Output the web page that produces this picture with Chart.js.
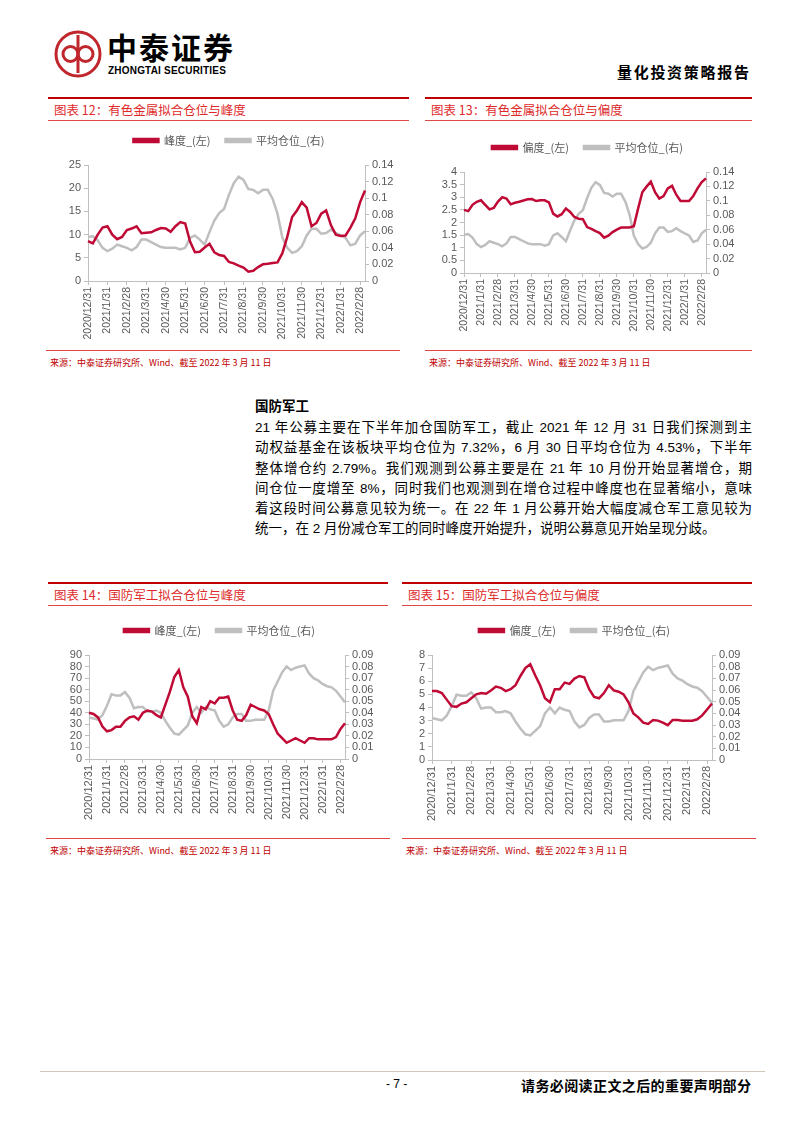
<!DOCTYPE html>
<html>
<head>
<meta charset="utf-8">
<script src="https://cdn.jsdelivr.net/npm/chart.js@4.4.0/dist/chart.umd.min.js"></script>
<style>
body { margin:0; width:802px; height:1133px; background:#fff; position:relative; overflow:hidden;
  font-family:"Liberation Sans","Noto Sans CJK SC",sans-serif; color:#000; }
.abs { position:absolute; }
.ttl { position:absolute; height:21px; border-top:2.5px solid #c00000; border-bottom:1px solid #e04848;
  color:#e02a2a; font-size:12.5px; line-height:21px; padding-left:6px; box-sizing:content-box;
  font-family:"Noto Sans CJK SC","Liberation Sans",sans-serif; }
.src { position:absolute; border-top:1px solid #e04848; color:#c00000; font-size:9px; padding:5px 0 0 4px;
  font-family:"Noto Sans CJK SC","Liberation Sans",sans-serif; }
.box { position:absolute; }
.txt { position:absolute; left:255px; width:497px; font-size:13.5px; line-height:20.3px; }
.txt div { text-align:justify; text-align-last:justify; white-space:nowrap; }
.txt div.last { text-align-last:left; }
</style>
</head>
<body>

<svg class="abs" style="left:53px;top:29px" width="50" height="50">
  <circle cx="25" cy="25" r="22" fill="none" stroke="#c0272d" stroke-width="3"/>
  <line x1="25" y1="6" x2="25" y2="44" stroke="#c0272d" stroke-width="3"/>
  <circle cx="17.5" cy="25" r="7.5" fill="none" stroke="#c0272d" stroke-width="3"/>
  <circle cx="32.5" cy="25" r="7.5" fill="none" stroke="#c0272d" stroke-width="3"/>
</svg>
<div class="abs" style="left:107px;top:29px;font-size:30px;font-weight:bold;letter-spacing:2px;font-family:'Noto Sans CJK SC';line-height:34px">中泰证券</div>
<div class="abs" style="left:108px;top:65px;font-size:10px;font-weight:bold;letter-spacing:0.2px">ZHONGTAI SECURITIES</div>
<div class="abs" style="left:617px;top:61px;font-size:15px;font-weight:bold;letter-spacing:1.7px;font-family:'Noto Sans CJK SC'">量化投资策略报告</div>

<div class="ttl" style="left:48px;top:97px;width:355px">图表 12：有色金属拟合仓位与峰度</div>
<div class="ttl" style="left:425px;top:97px;width:321px">图表 13：有色金属拟合仓位与偏度</div>
<div class="box" style="left:58px;top:120px;width:342px;height:223px"><canvas id="c12"></canvas></div>
<div class="box" style="left:434px;top:127px;width:307px;height:208px"><canvas id="c13"></canvas></div>
<div class="src" style="left:46px;top:350px;width:350px">来源：中泰证券研究所、Wind、截至 2022 年 3 月 11 日</div>
<div class="src" style="left:425px;top:350px;width:323px">来源：中泰证券研究所、Wind、截至 2022 年 3 月 11 日</div>

<div class="abs" style="left:255px;top:395px;font-size:13.5px;font-weight:bold;font-family:'Noto Sans CJK SC'">国防军工</div>
<div class="txt" style="top:418px">
  <div>21 年公募主要在下半年加仓国防军工，截止 2021 年 12 月 31 日我们探测到主</div>
  <div>动权益基金在该板块平均仓位为 7.32%，6 月 30 日平均仓位为 4.53%，下半年</div>
  <div>整体增仓约 2.79%。我们观测到公募主要是在 21 年 10 月份开始显著增仓，期</div>
  <div>间仓位一度增至 8%，同时我们也观测到在增仓过程中峰度也在显著缩小，意味</div>
  <div>着这段时间公募意见较为统一。在 22 年 1 月公募开始大幅度减仓军工意见较为</div>
  <div class="last">统一，在 2 月份减仓军工的同时峰度开始提升，说明公募意见开始呈现分歧。</div>
</div>

<div class="ttl" style="left:48px;top:582px;width:334px">图表 14：国防军工拟合仓位与峰度</div>
<div class="ttl" style="left:402px;top:582px;width:344px">图表 15：国防军工拟合仓位与偏度</div>
<div class="box" style="left:59px;top:610px;width:321px;height:211px"><canvas id="c14"></canvas></div>
<div class="box" style="left:402px;top:610px;width:345px;height:212px"><canvas id="c15"></canvas></div>
<div class="src" style="left:46px;top:838px;width:340px">来源：中泰证券研究所、Wind、截至 2022 年 3 月 11 日</div>
<div class="src" style="left:402px;top:838px;width:350px">来源：中泰证券研究所、Wind、截至 2022 年 3 月 11 日</div>

<div class="abs" style="left:40px;top:1071px;width:725px;border-top:1px solid #cfc6b8"></div>
<div class="abs" style="left:386px;top:1077px;font-size:12px">- 7 -</div>
<div class="abs" style="left:521px;top:1075px;font-size:14px;font-weight:bold;letter-spacing:0.4px;font-family:'Noto Sans CJK SC'">请务必阅读正文之后的重要声明部分</div>

<script>
// 周度日期（月末为刻度）
const dates = ['2020/12/31',
  '2021/1/8','2021/1/15','2021/1/22','2021/1/31',
  '2021/2/5','2021/2/12','2021/2/19','2021/2/28',
  '2021/3/8','2021/3/15','2021/3/23','2021/3/31',
  '2021/4/8','2021/4/15','2021/4/22','2021/4/30',
  '2021/5/8','2021/5/15','2021/5/23','2021/5/31',
  '2021/6/8','2021/6/15','2021/6/22','2021/6/30',
  '2021/7/8','2021/7/15','2021/7/23','2021/7/31',
  '2021/8/8','2021/8/15','2021/8/23','2021/8/31',
  '2021/9/8','2021/9/15','2021/9/22','2021/9/30',
  '2021/10/8','2021/10/15','2021/10/23','2021/10/31',
  '2021/11/8','2021/11/15','2021/11/22','2021/11/30',
  '2021/12/8','2021/12/15','2021/12/23','2021/12/31',
  '2022/1/8','2022/1/15','2022/1/23','2022/1/31',
  '2022/2/7','2022/2/14','2022/2/21','2022/2/28',
  '2022/3/11'];
const monthEnds = ['2020/12/31','2021/1/31','2021/2/28','2021/3/31','2021/4/30','2021/5/31','2021/6/30',
  '2021/7/31','2021/8/31','2021/9/30','2021/10/31','2021/11/30','2021/12/31','2022/1/31','2022/2/28'];

// 有色金属
const metalKurt = [8.6,8.1,10.0,11.5,11.8,10.0,9.0,9.5,11.0,11.3,11.8,10.3,10.4,10.5,11.0,11.4,11.3,10.6,11.8,12.7,
  12.4,8.5,6.2,6.3,7.2,8.0,6.2,5.6,5.4,4.1,3.8,3.3,2.9,2.0,2.2,3.0,3.6,3.7,3.9,4.0,
  6.0,9.5,13.8,15.2,17.0,15.8,11.8,12.5,14.5,15.2,12.0,10.0,9.7,9.8,11.5,13.5,17.0,19.5];
const metalSkew = [2.50,2.45,2.70,2.82,2.88,2.70,2.52,2.58,2.83,3.00,2.95,2.72,2.78,2.82,2.87,2.92,2.93,2.85,2.88,2.88,
  2.80,2.35,2.24,2.33,2.55,2.42,2.22,2.15,2.13,1.82,1.75,1.66,1.58,1.40,1.48,1.62,1.72,1.80,1.80,1.80,
  1.85,2.55,3.20,3.42,3.62,3.20,2.95,3.05,3.35,3.45,3.10,2.85,2.85,2.85,3.05,3.35,3.60,3.75];
const metalPos = [0.053,0.054,0.049,0.040,0.036,0.039,0.044,0.042,0.040,0.037,0.041,0.050,0.050,0.047,0.044,0.041,0.040,0.040,0.040,0.038,
  0.040,0.052,0.055,0.050,0.044,0.059,0.073,0.082,0.087,0.104,0.118,0.126,0.122,0.111,0.110,0.106,0.110,0.110,0.099,0.081,
  0.052,0.040,0.034,0.036,0.042,0.055,0.063,0.063,0.057,0.058,0.062,0.058,0.055,0.052,0.043,0.045,0.055,0.060];

// 国防军工
const defKurt = [40,39,36,28,24,25,28,28,33,36,37,34,40,42,41,38,36,47,58,71,
  77,62,54,37,31,45,43,50,48,53,53,54,42,34,33,38,47,45,43,42,
  39,30,22,18,14,16,18,16,14,18,18,17,17,17,17,19,26,31];
const defSkew = [5.25,5.25,5.1,4.6,4.1,4.05,4.3,4.4,4.7,5.0,5.1,5.05,5.3,5.6,5.5,5.25,5.4,5.7,6.4,7.0,
  7.3,6.45,5.7,4.7,4.4,5.4,5.4,5.9,5.8,6.2,6.4,6.3,5.4,4.8,4.7,5.1,5.7,5.3,5.2,5.0,
  4.4,3.55,3.25,2.85,2.75,3.05,3.0,2.85,2.65,3.05,3.05,3.0,3.0,3.0,3.1,3.4,3.85,4.3];
const defPos = [0.036,0.035,0.034,0.038,0.046,0.056,0.055,0.055,0.058,0.053,0.044,0.045,0.045,0.041,0.041,0.042,0.040,0.033,0.027,0.022,
  0.021,0.025,0.029,0.040,0.045,0.040,0.045,0.043,0.042,0.033,0.028,0.030,0.036,0.039,0.039,0.033,0.033,0.034,0.034,0.034,
  0.042,0.059,0.067,0.075,0.080,0.077,0.079,0.080,0.081,0.074,0.070,0.068,0.065,0.063,0.062,0.059,0.054,0.049];

const RED = '#c00a36';
const GRAY = '#bfbfbf';
const AXIS = '#bfbfbf';
const TXT = '#595959';
Chart.defaults.font.family = '"Liberation Sans", "Noto Sans CJK SC", sans-serif';
Chart.defaults.color = TXT;

const fmt = v => String(+Number(v).toFixed(4));

// 图例与绘图区之间留空
const legendGap = {
  id: 'legendGap',
  beforeInit(chart) {
    const fit = chart.legend.fit;
    chart.legend.fit = function () {
      fit.bind(chart.legend)();
      this.height += 9;
    };
  }
};

function pairChart(id, leftName, left, right, lMax, lStep, rMax, rStep, fs) {
  new Chart(document.getElementById(id), {
    type: 'line',
    data: {
      labels: dates,
      datasets: [
        { label: leftName, data: left, yAxisID: 'yL', borderColor: RED, backgroundColor: RED,
          borderWidth: 2.5, pointRadius: 0, tension: 0 },
        { label: '平均仓位_(右)', data: right, yAxisID: 'yR', borderColor: GRAY, backgroundColor: GRAY,
          borderWidth: 2.5, pointRadius: 0, tension: 0 }
      ]
    },
    plugins: [legendGap],
    options: {
      responsive: true,
      maintainAspectRatio: false,
      animation: false,
      events: [],
      layout: { padding: 0 },
      plugins: {
        legend: {
          position: 'top',
          labels: { boxWidth: 25, boxHeight: 3, padding: 15, color: TXT,
            font: { size: 11, family: '"Noto Sans CJK SC", sans-serif' } }
        },
        tooltip: { enabled: false }
      },
      scales: {
        x: {
          grid: { drawOnChartArea: false, tickLength: 4,
            color: c => monthEnds.includes(dates[c.index]) ? AXIS : 'rgba(0,0,0,0)' },
          border: { color: AXIS },
          ticks: { autoSkip: false, minRotation: 90, maxRotation: 90, padding: 2, color: TXT,
            font: { size: fs },
            callback: (v, i) => monthEnds.includes(dates[i]) ? dates[i] : '' },
          afterFit: s => { s.height = 62; }
        },
        yL: {
          position: 'left', min: 0, max: lMax,
          grid: { drawOnChartArea: false, tickLength: 4, color: AXIS },
          border: { color: AXIS },
          ticks: { stepSize: lStep, autoSkip: false, padding: 3, color: TXT, font: { size: 11 }, callback: fmt },
          afterFit: s => { s.width = 30; }
        },
        yR: {
          position: 'right', min: 0, max: rMax,
          grid: { drawOnChartArea: false, tickLength: 4, color: AXIS },
          border: { color: AXIS },
          ticks: { stepSize: rStep, autoSkip: false, padding: 3, color: TXT, font: { size: 11 }, callback: fmt },
          afterFit: s => { s.width = 35; }
        }
      }
    }
  });
}

pairChart('c12', '峰度_(左)', metalKurt, metalPos, 25, 5, 0.14, 0.02, 10.5);
pairChart('c13', '偏度_(左)', metalSkew, metalPos, 4, 0.5, 0.14, 0.02, 10.5);
pairChart('c14', '峰度_(左)', defKurt, defPos, 90, 10, 0.09, 0.01, 11);
pairChart('c15', '偏度_(左)', defSkew, defPos, 8, 1, 0.09, 0.01, 11);
</script>
</body>
</html>
